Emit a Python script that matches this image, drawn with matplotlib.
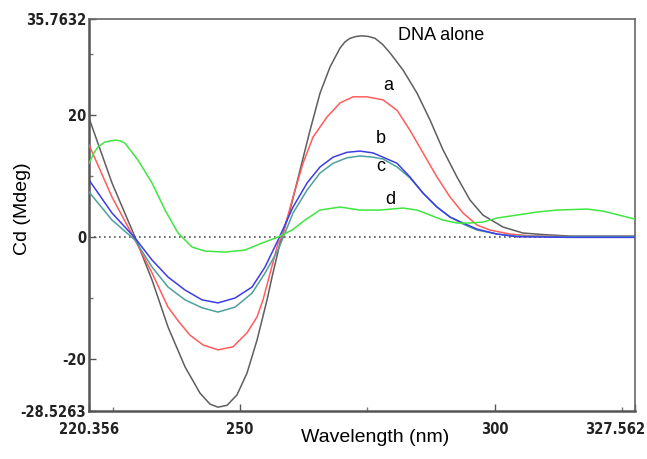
import matplotlib.pyplot as plt
from matplotlib.transforms import ScaledTranslation

# CD spectra of DNA alone and with increasing additions (a-d)
wl_dna = [220.36, 224.87, 229.39, 232.73, 235.87, 239.21, 242.15, 244.11, 245.68, 247.45,
          249.4, 251.38, 253.34, 255.31, 256.3, 257.86, 259.82, 261.79, 263.75, 265.71,
          267.68, 269.64, 270.6, 271.6, 272.8, 273.96, 275.2, 276.51, 278.0, 279.46,
          282.01, 284.76, 287.31, 289.86, 292.61, 295.16, 297.71, 301.64, 305.57, 309.5,
          314.8, 327.56]
cd_dna = [19.5, 8.86, 0.0, -7.05, -14.76, -21.3, -25.6, -27.4, -27.9, -27.6,
          -25.9, -22.3, -16.9, -10.3, -6.5, -1.0, 4.4, 11.0, 17.5, 23.6,
          27.9, 31.0, 32.0, 32.6, 32.9, 33.0, 32.9, 32.6, 31.6, 30.2,
          27.4, 23.6, 19.2, 14.3, 9.84, 6.07, 3.6, 1.64, 0.66, 0.41,
          0.16, 0.16]

wl_a = [220.36, 224.87, 229.39, 232.73, 235.87, 238.0, 240.19, 242.74, 245.68, 248.63,
        251.38, 253.34, 254.52, 257.47, 258.25, 260.41, 262.37, 264.34, 267.09, 269.64,
        272.19, 274.94, 278.08, 280.83, 283.38, 285.94, 288.68, 291.24, 293.79, 296.54,
        299.09, 303.02, 306.95, 314.8, 327.56]
cd_a = [15.1, 6.56, -0.49, -5.9, -11.5, -13.9, -16.1, -17.7, -18.5, -18.0,
        -15.7, -13.1, -10.3, -1.0, 0.0, 6.56, 12.1, 16.4, 19.7, 22.0,
        23.0, 23.0, 22.5, 20.8, 17.5, 13.8, 9.84, 6.56, 3.94, 1.97,
        1.15, 0.49, 0.2, 0.05, 0.0]

wl_b = [220.36, 224.87, 229.39, 232.73, 235.87, 239.21, 242.54, 245.68, 249.02, 252.36,
        254.91, 257.47, 260.41, 263.16, 265.71, 268.27, 271.01, 273.57, 276.12, 278.08,
        280.83, 283.38, 285.94, 288.68, 291.24, 293.79, 296.54, 300.47, 304.4, 314.8,
        327.56]
cd_b = [9.35, 3.94, -0.16, -3.77, -6.56, -8.69, -10.3, -10.8, -10.0, -8.2,
        -4.92, -0.49, 4.92, 8.86, 11.5, 13.1, 13.9, 14.1, 13.8, 13.1,
        12.1, 9.84, 7.2, 4.92, 3.28, 2.3, 1.31, 0.49, 0.05, -0.05,
        -0.05]

wl_c = [220.36, 224.87, 229.39, 232.73, 235.87, 239.21, 242.54, 245.68, 249.02, 252.36,
        254.91, 257.47, 260.41, 263.16, 265.71, 268.27, 271.01, 273.57, 276.12, 278.08,
        280.83, 283.38, 285.94, 288.68, 291.24, 293.79, 296.54, 300.47, 304.4, 314.8,
        327.56]
cd_c = [7.38, 2.79, -0.49, -4.92, -8.2, -10.3, -11.6, -12.3, -11.5, -9.2,
        -5.9, -2.13, 3.94, 7.7, 10.5, 12.1, 13.0, 13.3, 13.1, 12.8,
        11.5, 9.7, 7.2, 4.92, 3.28, 2.13, 1.15, 0.49, 0.16, 0.05,
        0.05]

wl_d = [220.36, 221.34, 222.12, 223.5, 225.46, 226.4, 227.42, 229.98, 232.73, 235.28,
        237.83, 240.58, 243.13, 247.06, 250.99, 254.33, 257.47, 260.22, 262.77, 265.71,
        269.64, 273.57, 277.5, 282.01, 284.76, 287.31, 289.86, 292.61, 295.16, 297.71,
        300.47, 304.4, 308.32, 312.25, 318.14, 321.28, 327.56]
cd_d = [12.1, 13.8, 14.8, 15.6, 15.9, 15.8, 15.4, 12.6, 8.86, 4.43,
        0.66, -1.64, -2.3, -2.46, -2.13, -0.98, 0.0, 1.15, 2.79, 4.43,
        4.92, 4.43, 4.43, 4.76, 4.43, 3.61, 2.79, 2.3, 2.3, 2.46,
        3.12, 3.61, 4.1, 4.43, 4.59, 4.26, 2.95]

xmin, xmax = 220.356, 327.562
ymin, ymax = -28.5263, 35.7632

fig = plt.figure(figsize=(6.47, 4.59), dpi=100)
ax = fig.add_axes([0.1376, 0.1046, 0.8439, 0.854])

ax.axhline(0, color='#555555', lw=1.2, ls=(0, (1, 2)), zorder=1)

line_kw = dict(lw=1.1, zorder=3, solid_joinstyle='round')
ax.plot(wl_dna, cd_dna, color='#5e5e5e', **line_kw)
ax.plot(wl_a, cd_a, color='#ff5c5c', **line_kw)
ax.plot(wl_c, cd_c, color='#4f9f9f', **line_kw)
ax.plot(wl_b, cd_b, color='#3d3de6', **line_kw)
ax.plot(wl_d, cd_d, color='#40e640', **line_kw)

ax.set_xlim(xmin, xmax)
ax.set_ylim(ymin, ymax)

tick_font = dict(family='DejaVu Sans', stretch='condensed', weight='bold', size=10.5)
ax.set_xticks([xmin, 250, 300, xmax])
ax.set_xticklabels(['220.356', '250', '300', '327.562'], **tick_font, color='#222222')
ax.set_xticks([225, 275, 325], minor=True)
ax.set_yticks([ymin, -20, 0, 20, ymax])
ax.set_yticklabels(['-28.5263', '-20', '0', '20', '35.7632'], **tick_font, color='#222222')
ax.set_yticks([-10, 10, 30], minor=True)
ax.tick_params(which='major', direction='in', length=5, width=1, color='#555555')
ax.tick_params(which='minor', direction='in', length=3, width=1, color='#777777')
ax.tick_params(axis='x', which='major', pad=8)
ax.tick_params(axis='y', which='major', pad=2)

# keep the end label inside the figure
last = ax.get_xticklabels()[-1]
last.set_transform(last.get_transform() + ScaledTranslation(-20 / 100, 0, fig.dpi_scale_trans))

for side in ['left', 'bottom']:
    ax.spines[side].set_linewidth(1.8)
    ax.spines[side].set_color('#555555')
for side in ['top', 'right']:
    ax.spines[side].set_linewidth(1.2)
    ax.spines[side].set_color('#666666')

lab_font = dict(family='Liberation Sans', size=14)
fig.text(375 / 647, 1 - 437 / 459, 'Wavelength (nm)', ha='center', va='center', **lab_font)
fig.text(23 / 647, 1 - 209 / 459, 'Cd (Mdeg)', ha='center', va='center', rotation=90, **lab_font)

note_font = dict(family='Liberation Sans', size=13, ha='center', va='center')
ax.text(289.5, 33.1, 'DNA alone', **note_font)
ax.text(279.1, 24.8, 'a', **note_font)
ax.text(277.7, 16.2, 'b', **note_font)
ax.text(277.7, 11.5, 'c', **note_font)
ax.text(279.6, 6.2, 'd', **note_font)

fig.savefig('out.png', dpi=100)
plt.close()
